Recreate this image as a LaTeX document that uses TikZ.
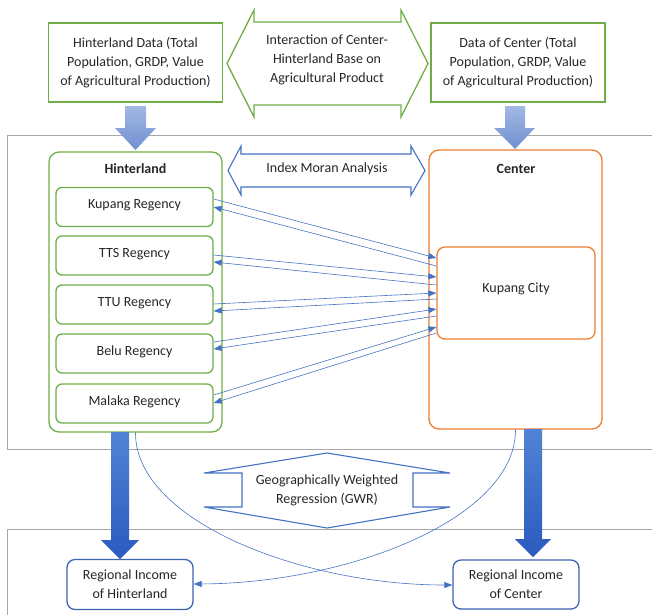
\documentclass[tikz,border=0pt]{standalone}
\usepackage{fontspec}
\setmainfont{Carlito}
\usetikzlibrary{arrows.meta,calc}
\definecolor{grn}{HTML}{70AD47}
\definecolor{org}{HTML}{ED7D31}
\definecolor{blu}{HTML}{4472C4}
\definecolor{dblu}{HTML}{3A63B0}
\definecolor{frm}{HTML}{A6A6A6}
\definecolor{txt}{HTML}{262626}
\definecolor{lbtop}{HTML}{A3B9E4}
\definecolor{lbbot}{HTML}{6F8FD0}
\definecolor{dbtop}{HTML}{5283D4}
\definecolor{dbbot}{HTML}{2A5ABF}
\begin{document}
\begin{tikzpicture}[x=1pt,y=-1pt,
  font=\fontsize{14}{19}\selectfont,
  every node/.style={text=txt},
  databox/.style={draw=grn,line width=1.3pt,align=center,inner sep=0pt,minimum width=174pt,minimum height=79pt},
  gcont/.style={draw=grn,line width=1.3pt,rounded corners=10pt,minimum width=173pt},
  ocont/.style={draw=org,line width=1.3pt,rounded corners=10pt},
  regbox/.style={draw=grn,line width=1.3pt,rounded corners=6pt,minimum width=157pt,minimum height=39pt,inner sep=0pt},
  incbox/.style={draw=dblu,line width=1.3pt,rounded corners=8pt,minimum width=126pt,minimum height=50pt,inner sep=0pt,align=center},
  plain/.style={align=center,inner sep=0pt},
  conn/.style={draw=blu,line width=0.6pt,-{Triangle[length=8pt,width=6pt]}},
  frameline/.style={draw=frm,line width=1pt},
  bigarrow/.style={draw=blu,line width=1.1pt,line join=miter}
]
\useasboundingbox (0,0) rectangle (652,614);

% frames
\draw[frameline] (660,135) -- (7,135) -- (7,449) -- (660,449);
\draw[frameline] (660,529) -- (7,529) -- (7,620);

% top data boxes
\node[databox] (hdata) at (135.5,62.5) {Hinterland Data (Total\\Population, GRDP, Value\\of Agricultural Production)};
\node[databox] (cdata) at (518,62.5) {Data of Center (Total\\Population, GRDP, Value\\of Agricultural Production)};

% interaction double arrow
\draw[draw=grn,line width=1.3pt,line join=miter] (227,63.5) -- (254,10) -- (254,22) -- (401,22) -- (401,10) -- (428,63.5) -- (401,117) -- (401,105) -- (254,105) -- (254,117) -- cycle;
\node[plain] (inter) at (327,60) {Interaction of Center-\\Hinterland Base on\\Agricultural Product};

% containers
\node[gcont,minimum height=280pt] (hinter) at (135.5,292) {};
\node[ocont,minimum width=173pt,minimum height=279pt] (center) at (515.5,289.5) {};
\node[plain,font=\fontsize{14}{19}\selectfont\bfseries] (hlab) at (135.5,169) {Hinterland};
\node[plain,font=\fontsize{14}{19}\selectfont\bfseries] (clab) at (516,169) {Center};

% top light arrows
\shade[top color=lbtop,bottom color=lbbot] (125,106) -- (146,106) -- (146,128) -- (156,128) -- (135.5,150) -- (115,128) -- (125,128) -- cycle;
\shade[top color=lbtop,bottom color=lbbot] (505,106) -- (525,106) -- (525,128) -- (535,128) -- (515,149) -- (494,128) -- (505,128) -- cycle;

% Moran double arrow
\draw[bigarrow] (228,170.5) -- (241,146) -- (241,154) -- (411,154) -- (411,146) -- (425,170.5) -- (411,195) -- (411,187) -- (241,187) -- (241,195) -- cycle;
\node[plain] (moran) at (327,169) {Index Moran Analysis};

% regencies
\node[regbox] (kup) at (134.5,207) {};
\node[regbox] (tts) at (134.5,255.5) {};
\node[regbox] (ttu) at (134.5,304.5) {};
\node[regbox] (belu) at (134.5,353.5) {};
\node[regbox] (mal) at (134.5,403.5) {};
\node[plain] (kupt) at (134.5,205) {Kupang Regency};
\node[plain] (ttst) at (134.5,254) {TTS Regency};
\node[plain] (ttut) at (134.5,303) {TTU Regency};
\node[plain] (belut) at (134.5,352) {Belu Regency};
\node[plain] (malt) at (134.5,401.5) {Malaka Regency};

% Kupang City
\node[ocont,rounded corners=8pt,minimum width=158pt,minimum height=92pt] (kc) at (516,293) {};
\node[plain] (kct) at (516,289) {Kupang City};

% connectors
\draw[conn] (kup.east |- 0,199) -- (kc.west |- 0,258);
\draw[conn] (kc.west |- 0,266) -- (kup.east |- 0,207);
\draw[conn] (tts.east |- 0,255) -- (kc.west |- 0,277);
\draw[conn] (kc.west |- 0,285) -- (tts.east |- 0,262);
\draw[conn] (ttu.east |- 0,304) -- (kc.west |- 0,293);
\draw[conn] (kc.west |- 0,299) -- (ttu.east |- 0,311);
\draw[conn] (belu.east |- 0,342) -- (kc.west |- 0,309);
\draw[conn] (kc.west |- 0,316) -- (belu.east |- 0,349);
\draw[conn] (mal.east |- 0,395) -- (kc.west |- 0,327);
\draw[conn] (kc.west |- 0,333) -- (mal.east |- 0,403);

% bottom thick arrows
\shade[top color=dbtop,bottom color=dbbot] (111,432) -- (129,432) -- (129,540) -- (139,540) -- (120,559) -- (101,540) -- (111,540) -- cycle;
\shade[top color=dbtop,bottom color=dbbot] (524,429) -- (542,429) -- (542,539) -- (551,539) -- (533,557) -- (515,539) -- (524,539) -- cycle;

% GWR shape
\draw[bigarrow] (327,453) -- (450,473) -- (413,473) -- (413,507) -- (450,507) -- (327,528) -- (204,507) -- (242,507) -- (242,473) -- (204,473) -- cycle;
\node[plain] (gwr) at (327,490) {Geographically Weighted\\Regression (GWR)};

% regional income boxes
\node[incbox] (rih) at (130,584.5) {Regional Income\\of Hinterland};
\node[incbox,minimum height=49pt] (ric) at (516,584.5) {Regional Income\\of Center};

% curves
\draw[conn] (hinter.south) .. controls (135,520) and (300,585) .. (ric.west |- 0,585);
\draw[conn] (center.south) .. controls (516,517) and (352,583) .. (rih.east |- 0,584);
\end{tikzpicture}
\end{document}
